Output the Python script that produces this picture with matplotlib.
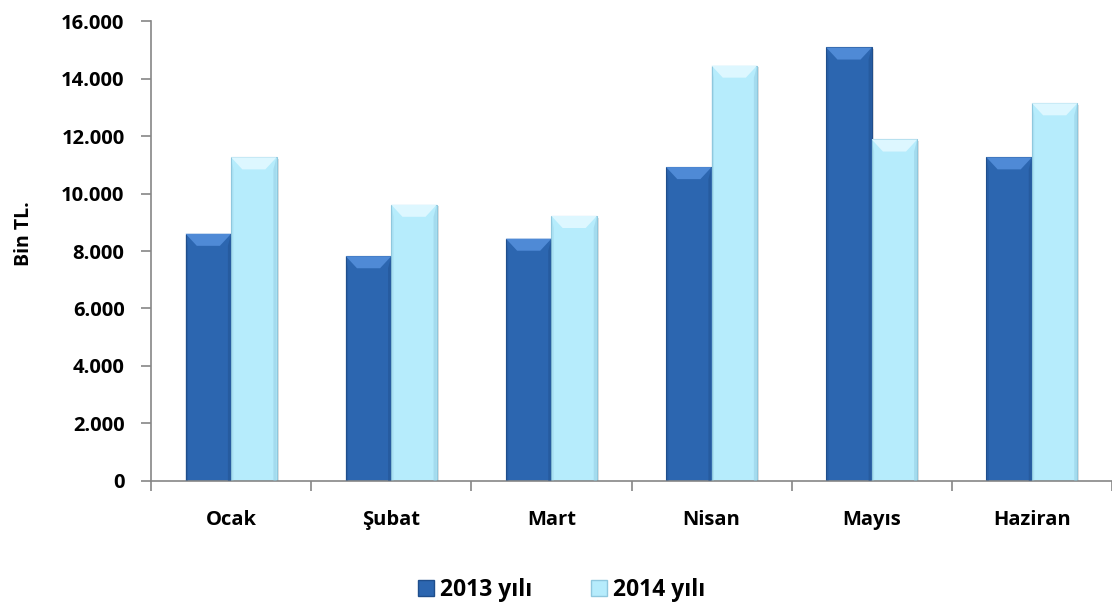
import matplotlib
matplotlib.use("Agg")
import matplotlib.pyplot as plt
from matplotlib.patches import Polygon, Rectangle

plt.rcParams['font.family'] = ['Open Sans', 'DejaVu Sans']
plt.rcParams['font.weight'] = 'bold'

# veriler
aylar = ["Ocak", "Şubat", "Mart", "Nisan", "Mayıs", "Haziran"]
y2013 = [8600, 7820, 8430, 10920, 15080, 11260]
y2014 = [11260, 9610, 9220, 14450, 11880, 13140]
seri_adlari = ["2013 yılı", "2014 yılı"]
y_ticks = [0, 2000, 4000, 6000, 8000, 10000, 12000, 14000, 16000]

renk_koyu = "#2C66B0"
renk_acik = "#B6ECFC"
kapak_koyu = "#4F8AD6"
kapak_acik = "#DDF7FF"
kenar_koyu = "#1F4E8C"
kenar_acik = "#8FC8DE"

fig = plt.figure(figsize=(11.12, 6.06), dpi=100)
ax = fig.add_axes([0.1358, 0.2063, 0.8642, 0.759])

w = 0.284
dx = 0.07
dy = 420

def bevel_bar(x0, h, renk, kapak, kenar):
    # golge
    ax.add_patch(Rectangle((x0 + 0.012, 0), w, h - 60, facecolor="#000000",
                           alpha=0.12, edgecolor="none", zorder=1))
    ax.bar(x0, h, width=w, align="edge", color=renk, edgecolor=kenar,
           linewidth=0.8, zorder=2)
    ax.add_patch(Polygon([(x0, h), (x0 + w, h), (x0 + w - dx, h - dy),
                          (x0 + dx, h - dy)], closed=True, facecolor=kapak,
                         edgecolor="none", zorder=3))
    ax.add_patch(Polygon([(x0 + w, h), (x0 + w - 0.02, h - dy), (x0 + w - 0.02, 0),
                          (x0 + w, 0)], closed=True, facecolor=kenar,
                         alpha=0.45, edgecolor="none", zorder=3))
    ax.add_patch(Polygon([(x0, h), (x0 + 0.015, h - dy), (x0 + 0.015, 0),
                          (x0, 0)], closed=True, facecolor=kenar,
                         alpha=0.3, edgecolor="none", zorder=3))

for i in range(len(aylar)):
    bevel_bar(i + 0.5 - w, y2013[i], renk_koyu, kapak_koyu, kenar_koyu)
    bevel_bar(i + 0.5, y2014[i], renk_acik, kapak_acik, kenar_acik)

ax.set_xlim(0, len(aylar))
ax.set_ylim(0, 16000)
ax.set_yticks(y_ticks)
ax.set_yticklabels([f"{v:,}".replace(",", ".") for v in y_ticks])
ax.set_xticks(range(len(aylar) + 1))
ax.set_xticklabels([])
ax.set_xticks([i + 0.5 for i in range(len(aylar))], minor=True)
ax.set_xticklabels(aylar, minor=True)
ax.tick_params(axis="x", which="minor", length=0, pad=21, labelsize=14.5)
ax.tick_params(axis="x", which="major", length=7, color="#868686", width=1.2)
ax.tick_params(axis="y", length=7, color="#868686", width=1.2, labelsize=14.5, pad=12)
for t in ax.get_yticklabels() + ax.get_xticklabels(minor=True):
    t.set_fontweight("bold")

for s in ["top", "right"]:
    ax.spines[s].set_visible(False)
for s in ["left", "bottom"]:
    ax.spines[s].set_color("#868686")
    ax.spines[s].set_linewidth(1.2)

fig.text(0.022, 0.615, "Bin TL.", rotation=90, ha="center", va="center",
         fontsize=14, fontweight="bold")

# lejant
h1 = Rectangle((0, 0), 1, 1, facecolor=renk_koyu, edgecolor=kenar_koyu)
h2 = Rectangle((0, 0), 1, 1, facecolor=renk_acik, edgecolor=kenar_acik)
fig.legend([h1, h2], seri_adlari, loc="center", bbox_to_anchor=(0.505, 0.026),
           ncol=2, frameon=False, prop={"size": 16.5, "weight": "bold"},
           handlelength=0.7, handleheight=0.7,
           handletextpad=0.25, columnspacing=2.6)

fig.savefig("out.png", dpi=100)
